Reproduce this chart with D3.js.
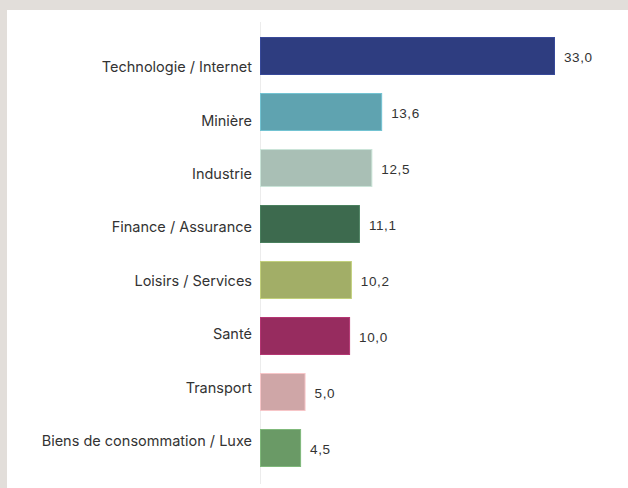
<!DOCTYPE html>
<html><head><meta charset="utf-8">
<script src="https://cdn.jsdelivr.net/npm/d3@7"></script>
<style>body{margin:0;background:#e2deda;}svg{display:block}</style>
</head><body>
<script>
const categories = ["Technologie / Internet","Minière","Industrie","Finance / Assurance","Loisirs / Services","Santé","Transport","Biens de consommation / Luxe"];
const values = [33.0,13.6,12.5,11.1,10.2,10.0,5.0,4.5];
const colors = ["#2e3d80","#5fa3b0","#a9bfb5","#3d6a4e","#a2ae67","#972c5f","#cfa6a7","#6a9a66"];

const W=628,H=488;
const svg=d3.select("body").append("svg").attr("width",W).attr("height",H);
svg.append("rect").attr("x",7).attr("y",10).attr("width",W-7).attr("height",H-10).attr("fill","#ffffff");

const x=d3.scaleLinear().domain([0,33]).range([260,554]);
const y=d3.scaleBand().domain(categories).range([28,476]).paddingInner(0.34).paddingOuter(0.17);
const yl=d3.scalePoint().domain(categories).range([67,441]);

svg.append("line").attr("x1",260.5).attr("x2",260.5).attr("y1",22).attr("y2",484)
  .attr("stroke","#ececec").attr("stroke-width",1);

svg.selectAll("rect.bar").data(categories).enter().append("rect").attr("class","bar")
  .attr("x",x(0)+0.5).attr("y",d=>y(d))
  .attr("width",(d,i)=>x(values[i])-x(0)).attr("height",y.bandwidth())
  .attr("fill",(d,i)=>colors[i])
  .attr("stroke",(d,i)=>d3.color(colors[i]).brighter(0.5)).attr("stroke-width",1);

svg.selectAll("text.cat").data(categories).enter().append("text").attr("class","cat")
  .attr("x",252).attr("y",d=>yl(d)).attr("dy","0.35em").attr("text-anchor","end")
  .attr("font-family","Inter, 'Liberation Sans', sans-serif").attr("font-size",14.5)
  .attr("fill","#333").text(d=>d);

svg.selectAll("text.val").data(categories).enter().append("text").attr("class","val")
  .attr("x",(d,i)=>x(values[i])+10).attr("y",d=>y(d)+y.bandwidth()/2+1).attr("dy","0.35em")
  .attr("font-family","'Liberation Sans', Arial, sans-serif").attr("font-size",13.5)
  .attr("letter-spacing",0.6)
  .attr("fill","#333").text((d,i)=>values[i].toFixed(1).replace(".",","));
</script>
</body></html>
